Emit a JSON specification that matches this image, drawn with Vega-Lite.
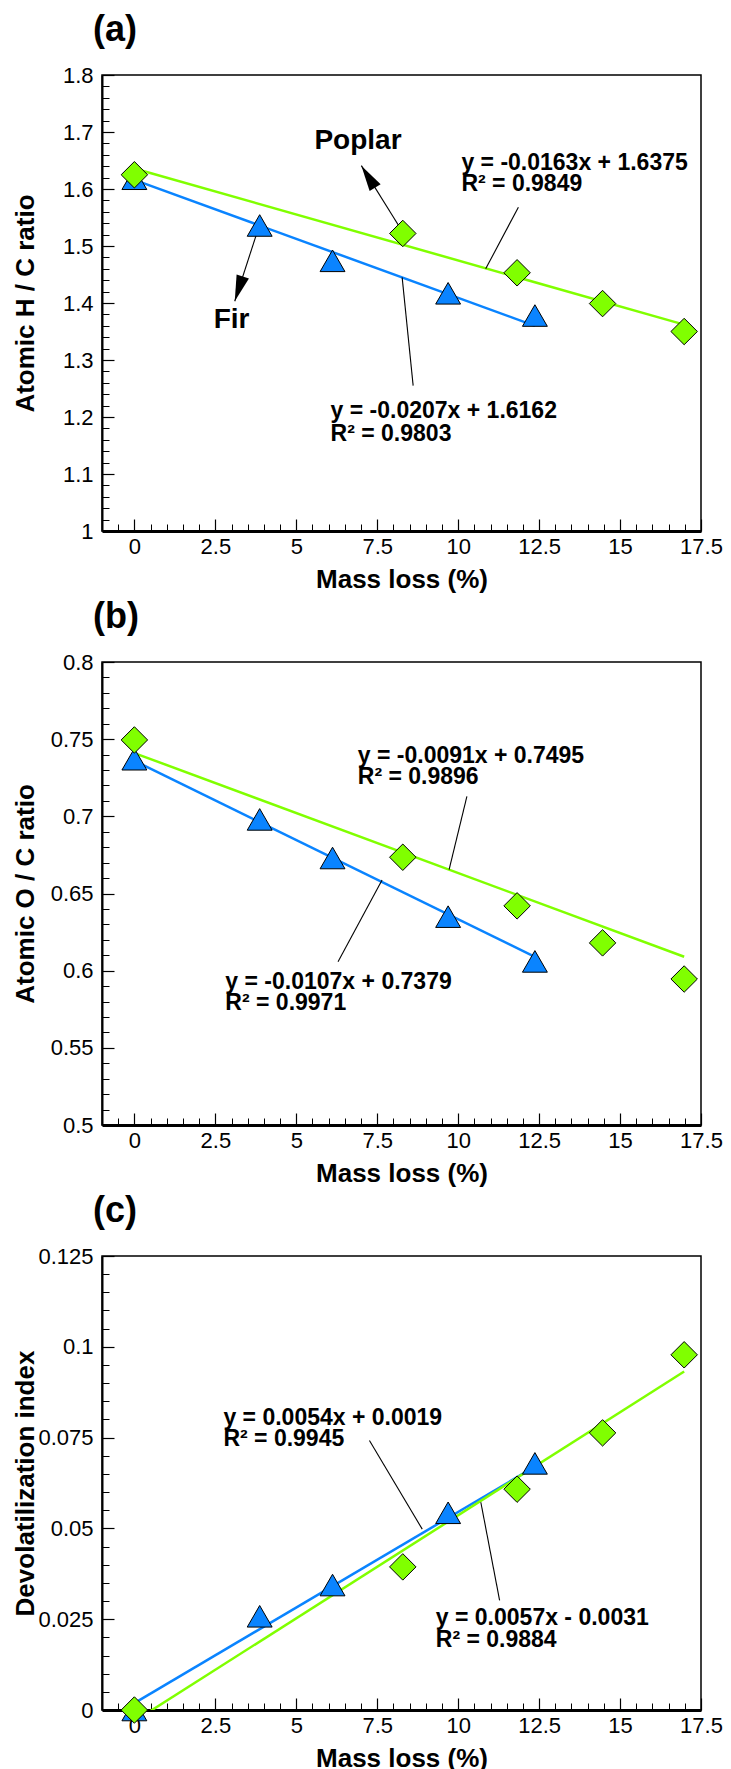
{
  "$schema": "https://vega.github.io/schema/vega-lite/v6.json",
  "padding": {"left": 11, "top": 11, "right": 5, "bottom": 5},
  "spacing": 131,
  "bounds": "flush",
  "config": {
    "font": "Liberation Sans",
    "view": {"stroke": "black", "strokeWidth": 1.5},
    "axis": {"grid": false, "labelFontSize": 22, "labelColor": "black", "labelFont": "Liberation Sans", "titleFont": "Liberation Sans", "titleFontSize": 26, "titleFontWeight": "bold", "titleColor": "black", "tickColor": "black", "domainColor": "black", "labelFlush": false, "labelOverlap": false},
    "title": {"fontSize": 36, "fontWeight": "bold", "font": "Liberation Sans", "color": "black", "anchor": "start", "frame": "group", "dx": -9, "baseline": "alphabetic", "offset": 15}
  },
  "vconcat": [
    {
      "width": 599, "height": 456,
      "title": {"text": "(a)"},
      "resolve": {"axis": {"x": "independent", "y": "independent"}},
      "layer": [
        {
          "data": {"values": [
            {"species": "Fir", "x": 0, "y": 1.616}, {"species": "Fir", "x": 12.37, "y": 1.36},
            {"species": "Poplar", "x": 0, "y": 1.636}, {"species": "Poplar", "x": 16.98, "y": 1.362}
          ]},
          "mark": {"type": "line", "strokeWidth": 2.5, "clip": true},
          "encoding": {
            "x": {"field": "x", "type": "quantitative", "scale": {"domain": [-1, 17.5], "nice": false, "zero": false},
                  "axis": {"orient": "bottom", "values": [-0.5,0.5,1,1.5,2,3,3.5,4,4.5,5.5,6,6.5,7,8,8.5,9,9.5,10.5,11,11.5,12,13,13.5,14,14.5,15.5,16,16.5,17], "labels": false, "domain": false, "tickSize": -7, "title": null}},
            "y": {"field": "y", "type": "quantitative", "scale": {"domain": [1, 1.8], "nice": false, "zero": false},
                  "axis": {"orient": "left", "values": [1.02,1.04,1.06,1.08,1.12,1.14,1.16,1.18,1.22,1.24,1.26,1.28,1.32,1.34,1.36,1.38,1.42,1.44,1.46,1.48,1.52,1.54,1.56,1.58,1.62,1.64,1.66,1.68,1.72,1.74,1.76,1.78], "labels": false, "domain": false, "tickSize": -7, "title": null}},
            "color": {"field": "species", "type": "nominal", "scale": {"domain": ["Fir", "Poplar"], "range": ["#0A84FF", "#80FF00"]}, "legend": null}
          }
        },
        {
          "data": {"values": [
            {"id": "p", "x": 11.86, "y": 1.568}, {"id": "p", "x": 10.85, "y": 1.46},
            {"id": "f", "x": 8.61, "y": 1.255}, {"id": "f", "x": 8.27, "y": 1.445},
            {"id": "ap", "x": 8.29, "y": 1.524}, {"id": "ap", "x": 7.01, "y": 1.641},
            {"id": "af", "x": 3.79, "y": 1.524}, {"id": "af", "x": 3.1, "y": 1.403}
          ]},
          "mark": {"type": "line", "color": "black", "strokeWidth": 1.1},
          "encoding": {
            "x": {"field": "x", "type": "quantitative", "scale": {"domain": [-1, 17.5], "nice": false, "zero": false}, "axis": null},
            "y": {"field": "y", "type": "quantitative", "scale": {"domain": [1, 1.8], "nice": false, "zero": false}, "axis": null},
            "detail": {"field": "id", "type": "nominal"}
          }
        },
        {
          "data": {"values": [{"x": 7.01, "y": 1.641}]},
          "mark": {"type": "point", "shape": "M0,0L0.5,2L-0.5,2Z", "filled": true, "color": "black", "opacity": 1, "size": 676, "angle": 328},
          "encoding": {
            "x": {"field": "x", "type": "quantitative", "scale": {"domain": [-1, 17.5], "nice": false, "zero": false}, "axis": null},
            "y": {"field": "y", "type": "quantitative", "scale": {"domain": [1, 1.8], "nice": false, "zero": false}, "axis": null}
          }
        },
        {
          "data": {"values": [{"x": 3.1, "y": 1.403}]},
          "mark": {"type": "point", "shape": "M0,0L0.5,2L-0.5,2Z", "filled": true, "color": "black", "opacity": 1, "size": 676, "angle": 198},
          "encoding": {
            "x": {"field": "x", "type": "quantitative", "scale": {"domain": [-1, 17.5], "nice": false, "zero": false}, "axis": null},
            "y": {"field": "y", "type": "quantitative", "scale": {"domain": [1, 1.8], "nice": false, "zero": false}, "axis": null}
          }
        },
        {
          "data": {"values": [
            {"species": "Fir", "x": 0, "y": 1.618}, {"species": "Fir", "x": 3.87, "y": 1.536}, {"species": "Fir", "x": 6.12, "y": 1.474}, {"species": "Fir", "x": 9.69, "y": 1.417}, {"species": "Fir", "x": 12.37, "y": 1.378},
            {"species": "Poplar", "x": 0, "y": 1.625}, {"species": "Poplar", "x": 8.29, "y": 1.522}, {"species": "Poplar", "x": 11.82, "y": 1.453}, {"species": "Poplar", "x": 14.46, "y": 1.399}, {"species": "Poplar", "x": 16.98, "y": 1.35}
          ]},
          "mark": {"type": "point", "filled": true, "opacity": 1, "stroke": "black", "strokeWidth": 1},
          "encoding": {
            "x": {"field": "x", "type": "quantitative", "scale": {"domain": [-1, 17.5], "nice": false, "zero": false},
                  "axis": {"orient": "bottom", "values": [0,2.5,5,7.5,10,12.5,15,17.5], "labelExpr": "format(datum.value, '~g')", "tickSize": -12, "tickWidth": 1.2, "labelPadding": 34, "labelBaseline": "alphabetic", "title": "Mass loss (%)", "titleY": 56, "titleBaseline": "alphabetic", "domainWidth": 3}},
            "y": {"field": "y", "type": "quantitative", "scale": {"domain": [1, 1.8], "nice": false, "zero": false},
                  "axis": {"orient": "left", "values": [1,1.1,1.2,1.3,1.4,1.5,1.6,1.7,1.8], "labelExpr": "format(datum.value, '~g')", "tickSize": -12, "tickWidth": 1.2, "labelPadding": 21, "title": "Atomic H / C ratio", "titleX": -69, "titleBaseline": "alphabetic", "domainWidth": 2}},
            "color": {"field": "species", "type": "nominal", "scale": {"domain": ["Fir", "Poplar"], "range": ["#0A84FF", "#80FF00"]}, "legend": null},
            "shape": {"field": "species", "type": "nominal", "scale": {"domain": ["Fir", "Poplar"], "range": ["triangle-up", "diamond"]}, "legend": null},
            "size": {"field": "species", "type": "nominal", "scale": {"domain": ["Fir", "Poplar"], "range": [620, 700]}, "legend": null}
          }
        },
        {
          "data": {"values": [
            {"x": 10.1, "y": 1.645, "text": "y = -0.0163x + 1.6375"}, {"x": 10.1, "y": 1.608, "text": "R² = 0.9849"},
            {"x": 6.06, "y": 1.21, "text": "y = -0.0207x + 1.6162"}, {"x": 6.06, "y": 1.1705, "text": "R² = 0.9803"}
          ]},
          "mark": {"type": "text", "align": "left", "baseline": "middle", "fontSize": 23, "fontWeight": "bold", "color": "black"},
          "encoding": {
            "x": {"field": "x", "type": "quantitative", "scale": {"domain": [-1, 17.5], "nice": false, "zero": false}, "axis": null},
            "y": {"field": "y", "type": "quantitative", "scale": {"domain": [1, 1.8], "nice": false, "zero": false}, "axis": null},
            "text": {"field": "text", "type": "nominal"}
          }
        },
        {
          "data": {"values": [
            {"x": 5.56, "y": 1.685, "text": "Poplar"}, {"x": 2.45, "y": 1.37, "text": "Fir"}
          ]},
          "mark": {"type": "text", "align": "left", "baseline": "middle", "fontSize": 28, "fontWeight": "bold", "color": "black"},
          "encoding": {
            "x": {"field": "x", "type": "quantitative", "scale": {"domain": [-1, 17.5], "nice": false, "zero": false}, "axis": null},
            "y": {"field": "y", "type": "quantitative", "scale": {"domain": [1, 1.8], "nice": false, "zero": false}, "axis": null},
            "text": {"field": "text", "type": "nominal"}
          }
        }
      ]
    },
    {
      "width": 599, "height": 463,
      "title": {"text": "(b)"},
      "resolve": {"axis": {"x": "independent", "y": "independent"}},
      "layer": [
        {
          "data": {"values": [
            {"species": "Fir", "x": 0, "y": 0.736}, {"species": "Fir", "x": 12.37, "y": 0.609},
            {"species": "Poplar", "x": 0, "y": 0.741}, {"species": "Poplar", "x": 16.98, "y": 0.609}
          ]},
          "mark": {"type": "line", "strokeWidth": 2.5, "clip": true},
          "encoding": {
            "x": {"field": "x", "type": "quantitative", "scale": {"domain": [-1, 17.5], "nice": false, "zero": false},
                  "axis": {"orient": "bottom", "values": [-0.5,0.5,1,1.5,2,3,3.5,4,4.5,5.5,6,6.5,7,8,8.5,9,9.5,10.5,11,11.5,12,13,13.5,14,14.5,15.5,16,16.5,17], "labels": false, "domain": false, "tickSize": -7, "title": null}},
            "y": {"field": "y", "type": "quantitative", "scale": {"domain": [0.5, 0.8], "nice": false, "zero": false},
                  "axis": {"orient": "left", "values": [0.51,0.52,0.53,0.54,0.56,0.57,0.58,0.59,0.61,0.62,0.63,0.64,0.66,0.67,0.68,0.69,0.71,0.72,0.73,0.74,0.76,0.77,0.78,0.79], "labels": false, "domain": false, "tickSize": -7, "title": null}},
            "color": {"field": "species", "type": "nominal", "scale": {"domain": ["Fir", "Poplar"], "range": ["#0A84FF", "#80FF00"]}, "legend": null}
          }
        },
        {
          "data": {"values": [
            {"id": "p", "x": 10.27, "y": 0.7129}, {"id": "p", "x": 9.72, "y": 0.6655},
            {"id": "f", "x": 6.29, "y": 0.6058}, {"id": "f", "x": 7.65, "y": 0.6588}
          ]},
          "mark": {"type": "line", "color": "black", "strokeWidth": 1.1},
          "encoding": {
            "x": {"field": "x", "type": "quantitative", "scale": {"domain": [-1, 17.5], "nice": false, "zero": false}, "axis": null},
            "y": {"field": "y", "type": "quantitative", "scale": {"domain": [0.5, 0.8], "nice": false, "zero": false}, "axis": null},
            "detail": {"field": "id", "type": "nominal"}
          }
        },
        {
          "data": {"values": [
            {"species": "Fir", "x": 0, "y": 0.737}, {"species": "Fir", "x": 3.87, "y": 0.698}, {"species": "Fir", "x": 6.12, "y": 0.673}, {"species": "Fir", "x": 9.69, "y": 0.635}, {"species": "Fir", "x": 12.37, "y": 0.606},
            {"species": "Poplar", "x": 0, "y": 0.7495}, {"species": "Poplar", "x": 8.29, "y": 0.6735}, {"species": "Poplar", "x": 11.82, "y": 0.642}, {"species": "Poplar", "x": 14.46, "y": 0.618}, {"species": "Poplar", "x": 16.98, "y": 0.5946}
          ]},
          "mark": {"type": "point", "filled": true, "opacity": 1, "stroke": "black", "strokeWidth": 1},
          "encoding": {
            "x": {"field": "x", "type": "quantitative", "scale": {"domain": [-1, 17.5], "nice": false, "zero": false},
                  "axis": {"orient": "bottom", "values": [0,2.5,5,7.5,10,12.5,15,17.5], "labelExpr": "format(datum.value, '~g')", "tickSize": -12, "tickWidth": 1.2, "labelPadding": 34, "labelBaseline": "alphabetic", "title": "Mass loss (%)", "titleY": 56, "titleBaseline": "alphabetic", "domainWidth": 3}},
            "y": {"field": "y", "type": "quantitative", "scale": {"domain": [0.5, 0.8], "nice": false, "zero": false},
                  "axis": {"orient": "left", "values": [0.5,0.55,0.6,0.65,0.7,0.75,0.8], "labelExpr": "format(datum.value, '~g')", "tickSize": -12, "tickWidth": 1.2, "labelPadding": 21, "title": "Atomic O / C ratio", "titleX": -69, "titleBaseline": "alphabetic", "domainWidth": 2}},
            "color": {"field": "species", "type": "nominal", "scale": {"domain": ["Fir", "Poplar"], "range": ["#0A84FF", "#80FF00"]}, "legend": null},
            "shape": {"field": "species", "type": "nominal", "scale": {"domain": ["Fir", "Poplar"], "range": ["triangle-up", "diamond"]}, "legend": null},
            "size": {"field": "species", "type": "nominal", "scale": {"domain": ["Fir", "Poplar"], "range": [620, 700]}, "legend": null}
          }
        },
        {
          "data": {"values": [
            {"x": 6.9, "y": 0.739, "text": "y = -0.0091x + 0.7495"}, {"x": 6.9, "y": 0.7253, "text": "R² = 0.9896"},
            {"x": 2.81, "y": 0.5929, "text": "y = -0.0107x + 0.7379"}, {"x": 2.81, "y": 0.5789, "text": "R² = 0.9971"}
          ]},
          "mark": {"type": "text", "align": "left", "baseline": "middle", "fontSize": 23, "fontWeight": "bold", "color": "black"},
          "encoding": {
            "x": {"field": "x", "type": "quantitative", "scale": {"domain": [-1, 17.5], "nice": false, "zero": false}, "axis": null},
            "y": {"field": "y", "type": "quantitative", "scale": {"domain": [0.5, 0.8], "nice": false, "zero": false}, "axis": null},
            "text": {"field": "text", "type": "nominal"}
          }
        }
      ]
    },
    {
      "width": 599, "height": 454,
      "title": {"text": "(c)"},
      "resolve": {"axis": {"x": "independent", "y": "independent"}},
      "layer": [
        {
          "data": {"values": [
            {"species": "Fir", "x": 0, "y": 0.0019}, {"species": "Fir", "x": 12.37, "y": 0.067},
            {"species": "Poplar", "x": 0, "y": -0.0031}, {"species": "Poplar", "x": 16.98, "y": 0.0932}
          ]},
          "mark": {"type": "line", "strokeWidth": 2.5, "clip": true},
          "encoding": {
            "x": {"field": "x", "type": "quantitative", "scale": {"domain": [-1, 17.5], "nice": false, "zero": false},
                  "axis": {"orient": "bottom", "values": [-0.5,0.5,1,1.5,2,3,3.5,4,4.5,5.5,6,6.5,7,8,8.5,9,9.5,10.5,11,11.5,12,13,13.5,14,14.5,15.5,16,16.5,17], "labels": false, "domain": false, "tickSize": -7, "title": null}},
            "y": {"field": "y", "type": "quantitative", "scale": {"domain": [0, 0.125], "nice": false, "zero": false},
                  "axis": {"orient": "left", "values": [0.005,0.01,0.015,0.02,0.03,0.035,0.04,0.045,0.055,0.06,0.065,0.07,0.08,0.085,0.09,0.095,0.105,0.11,0.115,0.12], "labels": false, "domain": false, "tickSize": -7, "title": null}},
            "color": {"field": "species", "type": "nominal", "scale": {"domain": ["Fir", "Poplar"], "range": ["#0A84FF", "#80FF00"]}, "legend": null}
          }
        },
        {
          "data": {"values": [
            {"id": "f", "x": 7.26, "y": 0.0742}, {"id": "f", "x": 8.89, "y": 0.0498},
            {"id": "p", "x": 11.28, "y": 0.0302}, {"id": "p", "x": 10.7, "y": 0.0572}
          ]},
          "mark": {"type": "line", "color": "black", "strokeWidth": 1.1},
          "encoding": {
            "x": {"field": "x", "type": "quantitative", "scale": {"domain": [-1, 17.5], "nice": false, "zero": false}, "axis": null},
            "y": {"field": "y", "type": "quantitative", "scale": {"domain": [0, 0.125], "nice": false, "zero": false}, "axis": null},
            "detail": {"field": "id", "type": "nominal"}
          }
        },
        {
          "data": {"values": [
            {"species": "Fir", "x": 0, "y": 0}, {"species": "Fir", "x": 3.87, "y": 0.0258}, {"species": "Fir", "x": 6.12, "y": 0.0344}, {"species": "Fir", "x": 9.69, "y": 0.0543}, {"species": "Fir", "x": 12.37, "y": 0.0679},
            {"species": "Poplar", "x": 0, "y": 0}, {"species": "Poplar", "x": 8.29, "y": 0.0394}, {"species": "Poplar", "x": 11.82, "y": 0.0608}, {"species": "Poplar", "x": 14.46, "y": 0.0763}, {"species": "Poplar", "x": 16.98, "y": 0.0978}
          ]},
          "mark": {"type": "point", "filled": true, "opacity": 1, "stroke": "black", "strokeWidth": 1},
          "encoding": {
            "x": {"field": "x", "type": "quantitative", "scale": {"domain": [-1, 17.5], "nice": false, "zero": false},
                  "axis": {"orient": "bottom", "values": [0,2.5,5,7.5,10,12.5,15,17.5], "labelExpr": "format(datum.value, '~g')", "tickSize": -12, "tickWidth": 1.2, "labelPadding": 34, "labelBaseline": "alphabetic", "title": "Mass loss (%)", "titleY": 56, "titleBaseline": "alphabetic", "domainWidth": 3}},
            "y": {"field": "y", "type": "quantitative", "scale": {"domain": [0, 0.125], "nice": false, "zero": false},
                  "axis": {"orient": "left", "values": [0,0.025,0.05,0.075,0.1,0.125], "labelExpr": "format(datum.value, '~g')", "tickSize": -12, "tickWidth": 1.2, "labelPadding": 21, "title": "Devolatilization index", "titleX": -69, "titleBaseline": "alphabetic", "domainWidth": 2}},
            "color": {"field": "species", "type": "nominal", "scale": {"domain": ["Fir", "Poplar"], "range": ["#0A84FF", "#80FF00"]}, "legend": null},
            "shape": {"field": "species", "type": "nominal", "scale": {"domain": ["Fir", "Poplar"], "range": ["triangle-up", "diamond"]}, "legend": null},
            "size": {"field": "species", "type": "nominal", "scale": {"domain": ["Fir", "Poplar"], "range": [620, 700]}, "legend": null}
          }
        },
        {
          "data": {"values": [
            {"x": 2.75, "y": 0.0805, "text": "y = 0.0054x + 0.0019"}, {"x": 2.75, "y": 0.0747, "text": "R² = 0.9945"},
            {"x": 9.31, "y": 0.0252, "text": "y = 0.0057x - 0.0031"}, {"x": 9.31, "y": 0.0194, "text": "R² = 0.9884"}
          ]},
          "mark": {"type": "text", "align": "left", "baseline": "middle", "fontSize": 23, "fontWeight": "bold", "color": "black"},
          "encoding": {
            "x": {"field": "x", "type": "quantitative", "scale": {"domain": [-1, 17.5], "nice": false, "zero": false}, "axis": null},
            "y": {"field": "y", "type": "quantitative", "scale": {"domain": [0, 0.125], "nice": false, "zero": false}, "axis": null},
            "text": {"field": "text", "type": "nominal"}
          }
        }
      ]
    }
  ]
}
